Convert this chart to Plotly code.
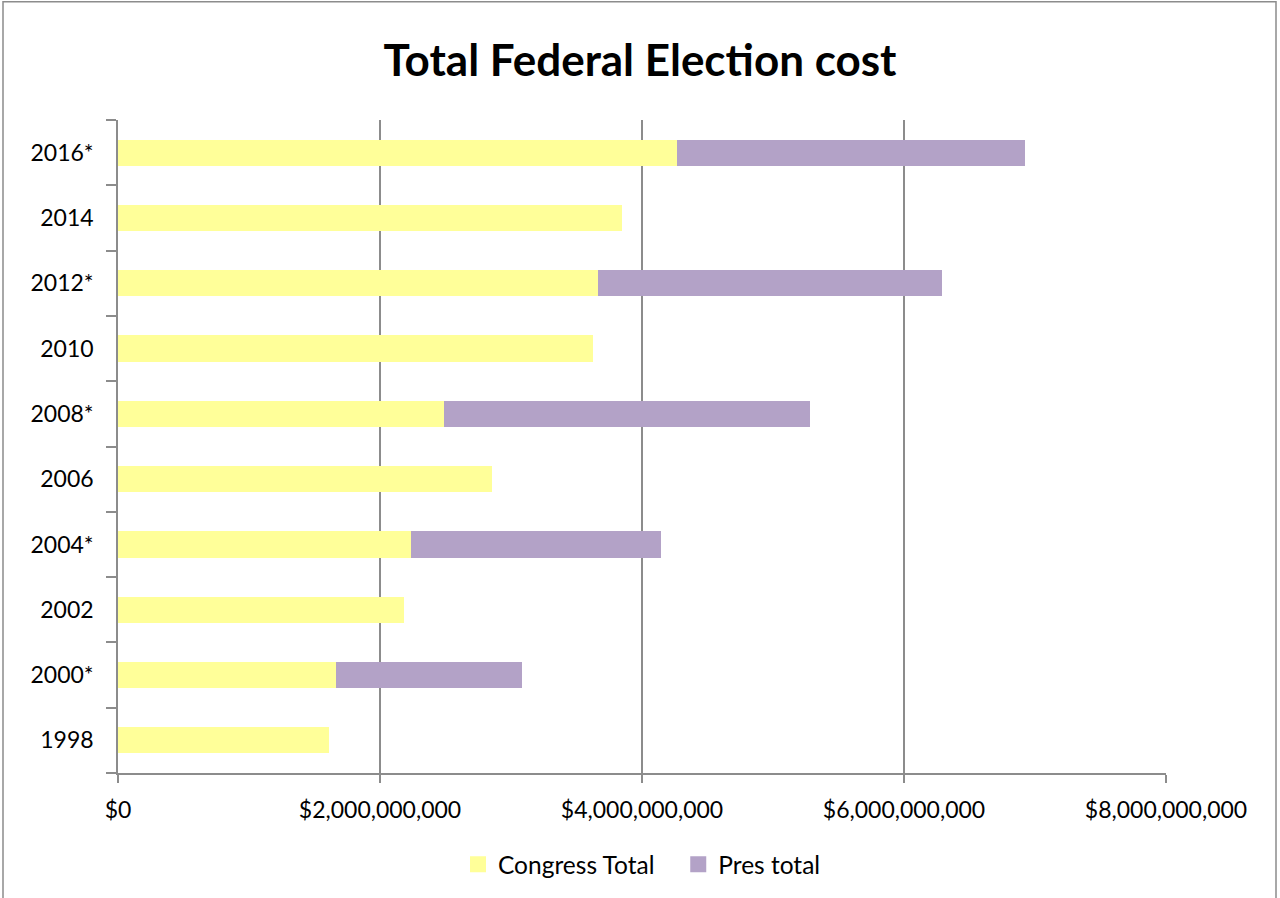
import plotly.graph_objects as go

# Election cycles (asterisk marks presidential election years)
years = ["1998", "2000*", "2002", "2004*", "2006", "2008*", "2010", "2012*", "2014", "2016*"]
congress_total = [1611e6, 1667e6, 2181e6, 2234e6, 2852e6, 2485e6, 3626e6, 3664e6, 3847e6, 4267e6]
pres_total = [None, 1415e6, None, 1910e6, None, 2800e6, None, 2626e6, None, 2654e6]

x_ticks = [0, 2e9, 4e9, 6e9, 8e9]
x_tick_labels = ["$0", "$2,000,000,000", "$4,000,000,000", "$6,000,000,000", "$8,000,000,000"]

FONT = "Lato"
GRID = "#8c8c8c"
CONGRESS_COLOR = "#FFFF99"
PRES_COLOR = "#B3A2C7"

fig = go.Figure()
fig.add_trace(go.Bar(
    y=years, x=congress_total, orientation="h", name="Congress Total",
    marker=dict(color=CONGRESS_COLOR, line=dict(width=0)), showlegend=False,
))
fig.add_trace(go.Bar(
    y=years, x=pres_total, orientation="h", name="Pres total",
    marker=dict(color=PRES_COLOR, line=dict(width=0)), showlegend=False,
))

# Legend entries drawn as larger square swatches
for name, color in [("Congress Total\u00a0\u00a0\u00a0", CONGRESS_COLOR), ("Pres total", PRES_COLOR)]:
    fig.add_trace(go.Scatter(
        x=[None], y=[None], mode="markers", name=name,
        marker=dict(symbol="square", size=16, color=color),
    ))

fig.update_layout(
    barmode="stack",
    bargap=0.6,
    width=1280, height=898,
    margin=dict(l=118, r=114, t=120, b=124),
    paper_bgcolor="white", plot_bgcolor="white",
    font=dict(family=FONT, size=23, color="black"),
    title=dict(
        text="<b>Total Federal Election cost</b>",
        x=0.5, xanchor="center", y=0.932, yanchor="middle",
        font=dict(family=FONT, size=44, color="black"),
    ),
    xaxis=dict(
        range=[0, 8e9], tickvals=x_ticks, ticktext=x_tick_labels,
        showgrid=True, gridcolor=GRID, gridwidth=1.5,
        showline=True, linecolor=GRID, linewidth=1.5,
        ticks="outside", ticklen=8, tickcolor=GRID, tickwidth=1.5,
        ticklabelstandoff=8,
        zeroline=False, fixedrange=True,
        tickfont=dict(family=FONT, size=23, color="black"),
    ),
    yaxis=dict(
        type="category", categoryorder="array", categoryarray=years,
        showgrid=False, showline=True, linecolor=GRID, linewidth=1.5,
        ticks="outside", tickson="boundaries", ticklen=10, tickcolor=GRID, tickwidth=1.5,
        tickfont=dict(family=FONT, size=23, color="black"),
        ticklabelstandoff=18,
        fixedrange=True,
    ),
    legend=dict(
        orientation="h", x=0.5, xanchor="center", y=-0.138, yanchor="middle",
        font=dict(family=FONT, size=24.5, color="black"),
        itemwidth=30, traceorder="normal",
    ),
    shapes=[dict(
        type="rect", xref="paper", yref="paper",
        x0=(3 - 118) / 1048, x1=(1276 - 118) / 1048,
        y0=-0.3, y1=(774 - 1.5) / 654,
        line=dict(color="#8c8c8c", width=1.5), fillcolor="rgba(0,0,0,0)",
        layer="below",
    )],
)

fig.write_html("out.html")
